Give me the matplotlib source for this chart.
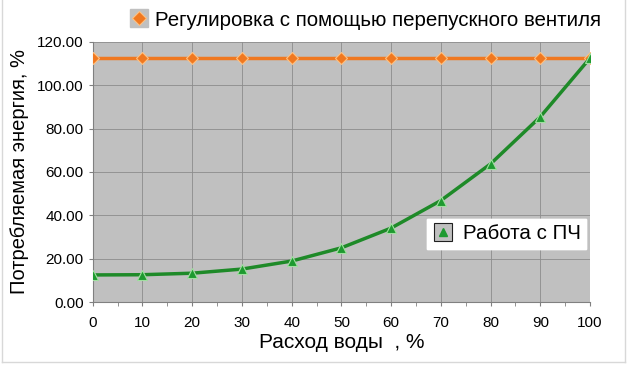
import matplotlib
matplotlib.use("Agg")
import matplotlib.pyplot as plt
import matplotlib.lines as mlines
from matplotlib.ticker import MultipleLocator, FormatStrFormatter

plt.rcParams['font.family'] = ['Liberation Sans', 'DejaVu Sans']

flow = [0, 10, 20, 30, 40, 50, 60, 70, 80, 90, 100]
valve = [112.5, 112.5, 112.5, 112.5, 112.5, 112.5, 112.5, 112.5, 112.5, 112.5, 112.5]
vfd = [12.5, 12.6, 13.3, 15.2, 18.9, 25.0, 34.1, 46.8, 63.7, 85.4, 112.5]
valve_label = "Регулировка с помощью перепускного вентиля"
vfd_label = "Работа с ПЧ"
xlabel = "Расход воды  , %"
ylabel = "Потребляемая энергия, %"

fig = plt.figure(figsize=(6.31, 3.67), dpi=100)

# light frame around the chart
for xs, ys in [([2/631, 2/631], [5/367, 1 - 0/367]),
               ([625/631, 625/631], [5/367, 1]),
               ([2/631, 625/631], [5/367, 5/367])]:
    fig.add_artist(mlines.Line2D(xs, ys, color='#d8d8d8', lw=1, transform=fig.transFigure))

ax = fig.add_axes([0.147, 0.177, 0.788, 0.709])
ax.set_facecolor('#c0c0c0')

l1, = ax.plot(flow, valve, color='#f07820', lw=2.5, marker='D', ms=6,
              mfc='#f07820', mec='#ffc080', mew=0.8, zorder=3)
l2, = ax.plot(flow, vfd, color='#1e8a28', lw=2.5, marker='^', ms=7,
              mfc='#1e9a30', mec='#a0e0a0', mew=0.8, zorder=4)

ax.set_xlim(0, 100)
ax.set_ylim(0, 120)
ax.xaxis.set_major_locator(MultipleLocator(10))
ax.xaxis.set_minor_locator(MultipleLocator(5))
ax.yaxis.set_major_locator(MultipleLocator(20))
ax.yaxis.set_major_formatter(FormatStrFormatter('%.2f'))
ax.grid(True, which='major', color='#8c8c8c', lw=0.6)
ax.set_axisbelow(True)
for s in ['top', 'right']:
    ax.spines[s].set_visible(False)
for s in ['left', 'bottom']:
    ax.spines[s].set_color('#808080')
ax.tick_params(axis='both', labelsize=11, colors='#808080', labelcolor='black', length=3)
ax.tick_params(axis='x', which='minor', length=3, colors='#808080')
ax.tick_params(axis='x', pad=7)

ax.set_xlabel(xlabel, fontsize=15, labelpad=2)
ax.set_ylabel(ylabel, fontsize=14.5, labelpad=6)

sq1 = mlines.Line2D([], [], color='none', marker='s', ms=13, mfc='#c0c0c0', mec='#c0c0c0')
dm1 = mlines.Line2D([], [], color='none', marker='D', ms=7, mfc='#f07820', mec='#ffc080', mew=0.8)
leg1 = fig.legend([(sq1, dm1)], [valve_label], loc='center right', bbox_to_anchor=(0.972, 0.945),
                  frameon=False, fontsize=14.8, handlelength=1.0, handletextpad=0.3,
                  borderpad=0.1)

sq2 = mlines.Line2D([], [], color='none', marker='s', ms=13, mfc='#c0c0c0', mec='#202020', mew=0.8)
tr2 = mlines.Line2D([], [], color='none', marker='^', ms=6, mfc='#1e9a30', mec='#1e9a30')
leg2 = ax.legend([(sq2, tr2)], [vfd_label], loc='center right', bbox_to_anchor=(0.997, 0.262),
                 frameon=True, fontsize=14.8, handlelength=1.0, handletextpad=0.5,
                 borderpad=0.25, borderaxespad=0.1, fancybox=False, framealpha=1,
                 edgecolor='white')
ax.add_artist(leg2)

fig.savefig('out.png', dpi=100)
